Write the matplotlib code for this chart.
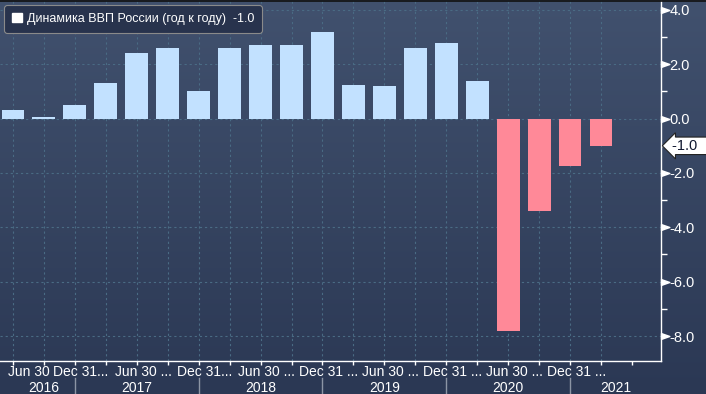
import numpy as np
import matplotlib
matplotlib.use("Agg")
import matplotlib.pyplot as plt
from matplotlib import font_manager
from matplotlib.patches import Patch
from matplotlib.path import Path
import matplotlib.transforms as mtransforms

# --- данные (квартальный рост ВВП, г/г, %) ---
quarters = ["2016Q2", "2016Q3", "2016Q4",
            "2017Q1", "2017Q2", "2017Q3", "2017Q4",
            "2018Q1", "2018Q2", "2018Q3", "2018Q4",
            "2019Q1", "2019Q2", "2019Q3", "2019Q4",
            "2020Q1", "2020Q2", "2020Q3", "2020Q4",
            "2021Q1"]
gdp_yoy = [0.3, 0.05, 0.5,
           1.3, 2.4, 2.6, 1.0,
           2.6, 2.7, 2.7, 3.2,
           1.25, 1.2, 2.6, 2.8,
           1.4, -7.8, -3.4, -1.75,
           -1.0]
date_labels = ["Jun 30", "Dec 31...", "Jun 30 ...", "Dec 31...", "Jun 30 ...",
               "Dec 31 ...", "Jun 30 ...", "Dec 31 ...", "Jun 30 ...", "Dec 31 ..."]
years = ["2016", "2017", "2018", "2019", "2020", "2021"]
y_ticks = [4.0, 2.0, 0.0, -2.0, -4.0, -6.0, -8.0]
series_name = "Динамика ВВП России (год к году)"

W, H = 706, 394

# узкий шрифт, если есть
names = {f.name for f in font_manager.fontManager.ttflist}
if "Liberation Sans Narrow" in names:
    FONT = dict(family="Liberation Sans Narrow")
else:
    FONT = dict(family="Liberation Sans")
FS = 10

fig = plt.figure(figsize=(W / 100, H / 100), dpi=100)

# фон с градиентом
bg = fig.add_axes([0, 0, 1, 1], zorder=-10)
top_c = np.array([0x41, 0x51, 0x6e]) / 255
bot_c = np.array([0x2b, 0x38, 0x54]) / 255
t = np.linspace(0, 1, 256)[:, None]
grad = top_c[None, :] * (1 - t) + bot_c[None, :] * t
bg.imshow(grad[:, None, :], aspect="auto", extent=[0, 1, 0, 1], origin="upper")
bg.axis("off")

ax = fig.add_axes([0, (H - 361) / H, 661 / W, 360 / H])
ax.patch.set_alpha(0)

x = np.arange(len(gdp_yoy))
colors = ["#c2e1ff" if v >= 0 else "#ff8998" for v in gdp_yoy]
ax.bar(x, gdp_yoy, width=0.74, color=colors, zorder=3)

ax.set_xlim(-0.42, 20.94)
ax.set_ylim(-8.92, 4.33)

grid_kw = dict(color="#4a6b84", lw=0.8, linestyle=(0, (2, 2.6)), zorder=1)
for yv in y_ticks:
    ax.axhline(yv, **grid_kw)
for xv in x:
    ax.axvline(xv, **grid_kw)

for s in ["top", "left"]:
    ax.spines[s].set_visible(False)
for s in ["right", "bottom"]:
    ax.spines[s].set_color("white")
    ax.spines[s].set_linewidth(1.0)

# ось Y справа
ax.yaxis.tick_right()
ax.set_yticks(y_ticks)
ax.set_yticklabels([f"{v:.1f}" for v in y_ticks], color="white", fontsize=FS + 0.5, **FONT)
ax.set_yticks([3, 1, -1, -3, -5, -7], minor=True)
ax.tick_params(axis="y", which="major", length=0, pad=6)
ax.tick_params(axis="y", which="minor", length=4, width=1, color="white", direction="out")

flag = Path([(0, -0.35), (1, 0), (0, 0.35), (0, -0.35)],
            [Path.MOVETO, Path.LINETO, Path.LINETO, Path.CLOSEPOLY])
trans_y = mtransforms.blended_transform_factory(ax.transAxes, ax.transData)
ax.plot([1] * len(y_ticks), y_ticks, linestyle="none", marker=flag, markersize=12,
        color="white", transform=trans_y, clip_on=False, zorder=5)

# ось X
ax.set_xticks(np.arange(len(gdp_yoy) + 1))
ax.set_xticklabels([])
ax.tick_params(axis="x", length=3, width=1, color="white", direction="out")

trans_x = mtransforms.blended_transform_factory(ax.transData, ax.transAxes)
for k, lab in enumerate(date_labels):
    i = 2 * k
    if k == 0:
        ax.text(-0.17, -11 / 360, lab, transform=trans_x, ha="left", va="center",
                color="white", fontsize=FS, **FONT)
    else:
        ax.text(i + 0.2, -11 / 360, lab, transform=trans_x, ha="center", va="center",
                color="white", fontsize=FS, **FONT)

# границы лет — на 31 декабря
dec_idx = [i for i, q in enumerate(quarters) if q.endswith("Q4")]
for i in dec_idx:
    ax.plot([i, i], [-17 / 360, -34 / 360], color="#8c95a5", lw=1,
            transform=trans_x, clip_on=False)
bounds = [0] + dec_idx + [ax.get_xlim()[1]]
for k, yr in enumerate(years):
    ax.text((bounds[k] + bounds[k + 1]) / 2, -27.5 / 360, yr, transform=trans_x,
            ha="center", va="center", color="white", fontsize=FS, **FONT)

# метка последнего значения
last = gdp_yoy[-1]
ax.text(1.016, last, f"{last:.1f}  ", transform=trans_y, ha="left", va="center",
        color="#101830", fontsize=FS + 0.5, zorder=6, **FONT,
        bbox=dict(boxstyle="larrow,pad=0.12", fc="white", ec="#222222", lw=0.8))

# легенда
handle = Patch(facecolor="white", edgecolor="white")
leg = ax.legend([handle], [f"{series_name}  {last:.1f}"], loc="upper left",
                bbox_to_anchor=(4 / W, 1 - 5 / H), bbox_transform=fig.transFigure,
                borderaxespad=0, borderpad=0.62, handlelength=0.8, handleheight=0.8,
                handletextpad=0.4, fancybox=True, framealpha=1,
                prop=font_manager.FontProperties(size=9, **FONT))
leg.get_frame().set_facecolor("#28334d")
leg.get_frame().set_edgecolor("#8a8a8a")
leg.get_frame().set_linewidth(0.8)
for txt in leg.get_texts():
    txt.set_color("white")

# тонкая тёмная линия сверху
fig.add_artist(plt.Line2D([0, 1], [1 - 0.5 / H, 1 - 0.5 / H], color="#111111", lw=1.2,
                          transform=fig.transFigure))

fig.savefig("out.png", dpi=100)
